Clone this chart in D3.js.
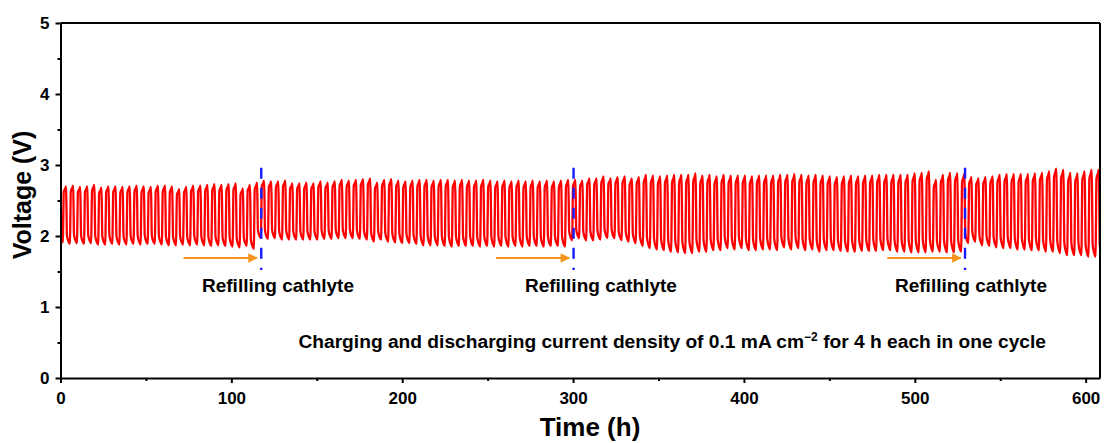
<!DOCTYPE html>
<html>
<head>
<meta charset="utf-8">
<script src="https://cdn.jsdelivr.net/npm/d3@7"></script>
<style>
  body { margin: 0; background: #fff; }
  text { font-family: Arial, "Liberation Sans", sans-serif; font-weight: bold; }
</style>
</head>
<body>
<div class="chart"></div>
<script>
// chart data
var cycleHours = 4.14;      // one charge + discharge
var firstTrough = 1.4;      // time of the first trough (h)
var startVoltage = 2.46;    // value at t = 0

// peak voltage of each cycle, split at the refills
var peaksA = [2.70, 2.71, 2.69, 2.70, 2.72, 2.68, 2.70, 2.70, 2.69, 2.70, 2.71, 2.70, 2.69, 2.71,
  2.71, 2.70, 2.66, 2.69, 2.71, 2.71, 2.72, 2.73, 2.72, 2.73, 2.74, 2.67, 2.72, 2.75];
var peaksB = [2.78, 2.77, 2.77, 2.78, 2.74, 2.74, 2.75, 2.74, 2.77, 2.75, 2.77, 2.79, 2.78, 2.79,
  2.80, 2.81, 2.75, 2.79, 2.80, 2.78, 2.77, 2.78, 2.79, 2.79, 2.78, 2.79, 2.79, 2.78, 2.79, 2.78,
  2.78, 2.79, 2.78, 2.77, 2.78, 2.77, 2.78, 2.77, 2.78, 2.77, 2.78, 2.77, 2.78, 2.79];
var peaksC = [2.79, 2.78, 2.81, 2.81, 2.84, 2.81, 2.83, 2.84, 2.81, 2.83, 2.86, 2.85, 2.84, 2.85,
  2.86, 2.86, 2.86, 2.88, 2.85, 2.86, 2.84, 2.86, 2.85, 2.85, 2.85, 2.84, 2.85, 2.85, 2.85, 2.86,
  2.86, 2.87, 2.86, 2.85, 2.86, 2.85, 2.84, 2.83, 2.84, 2.85, 2.84, 2.85, 2.85, 2.86, 2.86, 2.86,
  2.86, 2.86, 2.88, 2.89, 2.91, 2.79, 2.86, 2.89, 2.88, 2.87];
var peaksD = [2.83, 2.81, 2.83, 2.84, 2.86, 2.87, 2.87, 2.87, 2.87, 2.88, 2.89, 2.91, 2.95, 2.93,
  2.89, 2.88, 2.91, 2.93, 2.93];

// trough voltage of each cycle
var troughsA = [1.91, 1.89, 1.90, 1.89, 1.90, 1.88, 1.88, 1.89, 1.88, 1.88, 1.89, 1.88, 1.89, 1.89,
  1.88, 1.87, 1.87, 1.88, 1.87, 1.88, 1.87, 1.86, 1.87, 1.86, 1.85, 1.84, 1.86, 1.82];
var troughsB = [1.97, 1.96, 1.97, 1.95, 1.95, 1.95, 1.95, 1.95, 1.95, 1.96, 1.96, 1.97, 1.97, 1.97,
  1.96, 1.95, 1.92, 1.95, 1.92, 1.91, 1.90, 1.90, 1.89, 1.87, 1.87, 1.87, 1.86, 1.85, 1.86, 1.86,
  1.86, 1.85, 1.86, 1.85, 1.86, 1.85, 1.86, 1.85, 1.86, 1.86, 1.85, 1.86, 1.86, 1.85];
var troughsC = [1.94, 1.97, 1.94, 1.94, 1.95, 1.97, 1.97, 1.94, 1.92, 1.90, 1.86, 1.83, 1.81, 1.80,
  1.78, 1.77, 1.76, 1.76, 1.78, 1.78, 1.80, 1.80, 1.83, 1.81, 1.83, 1.80, 1.80, 1.81, 1.81, 1.80,
  1.84, 1.81, 1.83, 1.80, 1.81, 1.78, 1.80, 1.80, 1.79, 1.78, 1.78, 1.79, 1.79, 1.79, 1.80, 1.80,
  1.78, 1.78, 1.77, 1.77, 1.77, 1.78, 1.78, 1.77, 1.77, 1.78];
var troughsD = [1.90, 1.92, 1.87, 1.86, 1.84, 1.83, 1.83, 1.81, 1.81, 1.80, 1.80, 1.78, 1.78, 1.76,
  1.73, 1.73, 1.73, 1.71, 1.71];

var refillTimes = [117.5, 300.3, 529.4];
var refillLabelTimes = [127.3, 316.3, 532.9];
var refillLabel = "Refilling cathlyte";
var xTicks = [0, 100, 200, 300, 400, 500, 600];
var yTicks = [0, 1, 2, 3, 4, 5];

var peaks = peaksA.concat(peaksB, peaksC, peaksD);
var troughs = troughsA.concat(troughsB, troughsC, troughsD);

// declare plot dimensions
var svgWidth = 1104;
var svgHeight = 443;
var margin = { top: 23, right: 4, bottom: 65, left: 60.5 };
var width = svgWidth - margin.left - margin.right;
var height = svgHeight - margin.top - margin.bottom;

var svg = d3.select(".chart")
  .append("svg")
  .attr("width", svgWidth)
  .attr("height", svgHeight);

var chartGroup = svg.append("g")
  .attr("transform", `translate(${margin.left}, ${margin.top})`);

var x = d3.scaleLinear().domain([0, 608.4]).range([0, width]);
var y = d3.scaleLinear().domain([0, 5]).range([height, 0]);

// build the voltage trace, one cycle at a time
var points = [[0, startVoltage]];
peaks.forEach((pk, k) => {
  var t0 = firstTrough + k * cycleHours;
  var lo = troughs[k];
  var nextLo = k + 1 < troughs.length ? troughs[k + 1] : lo;
  var amp = pk - lo;
  var amp2 = pk - nextLo;
  var P = cycleHours;
  points.push([t0, lo]);
  points.push([t0 + 0.05 * P, lo + 0.4 * amp]);
  points.push([t0 + 0.12 * P, pk - 0.1 * amp]);
  points.push([t0 + 0.36 * P, pk - 0.03 * amp]);
  points.push([t0 + 0.44 * P, pk]);
  points.push([t0 + 0.50 * P, pk - 0.3 * amp2]);
  points.push([t0 + 0.57 * P, nextLo + 0.15 * amp2]);
  points.push([t0 + 0.80 * P, nextLo + 0.04 * amp2]);
});

svg.append("defs").append("clipPath")
  .attr("id", "plotClip")
  .append("rect")
  .attr("width", width)
  .attr("height", height);

var line = d3.line()
  .x(d => x(d[0]))
  .y(d => y(d[1]))
  .curve(d3.curveMonotoneX);

chartGroup.append("path")
  .datum(points)
  .attr("clip-path", "url(#plotClip)")
  .attr("fill", "none")
  .attr("stroke", "#ff0000")
  .attr("stroke-width", 2.3)
  .attr("stroke-linejoin", "round")
  .attr("d", line);

// refill markers: dashed blue lines, orange arrows, labels
svg.append("defs").append("marker")
  .attr("id", "arrowHead")
  .attr("viewBox", "0 0 10 10")
  .attr("refX", 9)
  .attr("refY", 5)
  .attr("markerWidth", 6)
  .attr("markerHeight", 4.4)
  .attr("markerUnits", "strokeWidth")
  .attr("orient", "auto")
  .append("path")
  .attr("d", "M0,0 L10,5 L0,10 Z")
  .attr("fill", "#f7941d");

refillTimes.forEach((t, i) => {
  chartGroup.append("line")
    .attr("x1", x(t)).attr("x2", x(t))
    .attr("y1", y(2.96)).attr("y2", y(1.52))
    .attr("stroke", "#1a1aff")
    .attr("stroke-width", 2.4)
    .attr("stroke-dasharray", "11,9");

  chartGroup.append("line")
    .attr("x1", x(t - 45.5)).attr("x2", x(t - 2.5))
    .attr("y1", y(1.69)).attr("y2", y(1.69))
    .attr("stroke", "#f7941d")
    .attr("stroke-width", 2.2)
    .attr("marker-end", "url(#arrowHead)");

  chartGroup.append("text")
    .attr("x", x(refillLabelTimes[i]))
    .attr("y", y(1.21))
    .attr("text-anchor", "middle")
    .style("font-size", "19px")
    .text(refillLabel);
});

// note about test conditions
var note = chartGroup.append("text")
  .attr("x", 1046 - margin.left)
  .attr("y", 348 - margin.top)
  .attr("text-anchor", "end")
  .style("font-size", "19.2px");
note.append("tspan").text("Charging and discharging current density of 0.1 mA cm");
note.append("tspan").attr("dy", -7).style("font-size", "12px").text("\u22122");
note.append("tspan").attr("dy", 7).text(" for 4 h each in one cycle");

// frame on top and right
chartGroup.append("line")
  .attr("x1", 0).attr("x2", width).attr("y1", 0).attr("y2", 0)
  .attr("stroke", "#000").attr("stroke-width", 2);
chartGroup.append("line")
  .attr("x1", width).attr("x2", width).attr("y1", 0).attr("y2", height)
  .attr("stroke", "#000").attr("stroke-width", 2);

// minor ticks
chartGroup.append("g")
  .attr("transform", `translate(0, ${height})`)
  .call(d3.axisBottom(x).tickValues([50, 150, 250, 350, 450, 550]).tickSize(3).tickFormat(""))
  .call(g => g.select(".domain").remove())
  .selectAll("line").attr("stroke-width", 2);
chartGroup.append("g")
  .call(d3.axisLeft(y).tickValues([0.5, 1.5, 2.5, 3.5, 4.5]).tickSize(3).tickFormat(""))
  .call(g => g.select(".domain").remove())
  .selectAll("line").attr("stroke-width", 2);

// major axes
var xAxis = chartGroup.append("g")
  .attr("transform", `translate(0, ${height})`)
  .call(d3.axisBottom(x).tickValues(xTicks).tickSize(5).tickSizeOuter(0)
    .tickPadding(9).tickFormat(d3.format("d")));
var yAxis = chartGroup.append("g")
  .call(d3.axisLeft(y).tickValues(yTicks).tickSize(5).tickSizeOuter(0)
    .tickPadding(6).tickFormat(d3.format("d")));

[xAxis, yAxis].forEach(a => {
  a.select(".domain").attr("stroke-width", 2);
  a.selectAll(".tick line").attr("stroke-width", 2);
  a.selectAll(".tick text")
    .style("font-family", "Arial, 'Liberation Sans', sans-serif")
    .style("font-weight", "bold")
    .style("font-size", "17px")
    .attr("fill", "#000");
});

// axis titles
chartGroup.append("text")
  .attr("x", 529.5)
  .attr("y", height + 58)
  .attr("text-anchor", "middle")
  .style("font-size", "26px")
  .text("Time (h)");

chartGroup.append("text")
  .attr("transform", "rotate(-90)")
  .attr("x", -172)
  .attr("y", -30)
  .attr("text-anchor", "middle")
  .style("font-size", "25px")
  .text("Voltage (V)");
</script>
</body>
</html>
